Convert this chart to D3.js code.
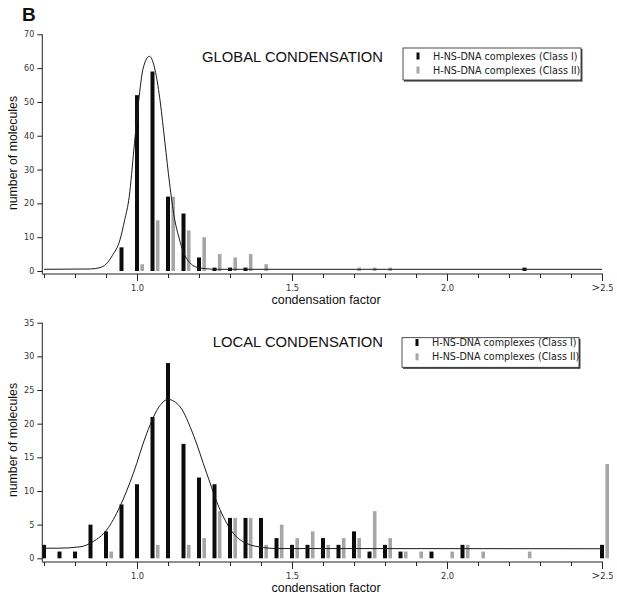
<!DOCTYPE html>
<html><head><meta charset="utf-8">
<script src="https://cdn.jsdelivr.net/npm/d3@7/dist/d3.min.js"></script>
<style>body{margin:0;background:#fff}svg{display:block}</style>
</head><body>
<script>
// ---------------- DATA ----------------
const xMinorTicks = [0.7,0.8,0.9,1.0,1.1,1.2,1.3,1.4,1.5,1.6,1.7,1.8,1.9,2.0,2.1,2.2,2.3,2.4,2.5];
const xMajorTicks = [1.0,1.5,2.0,2.5];
const xMajorLabels = ["1.0","1.5","2.0",">2.5"];
const globalYTicks = [0,10,20,30,40,50,60,70];
const localYTicks = [0,5,10,15,20,25,30,35];

const globalClassIBins   = [0.95,1.00,1.05,1.10,1.15,1.20,1.25,1.30,1.35,2.25];
const globalClassICounts = [7,52,59,22,17,4,1,1,1,1];
const globalClassIIBins   = [1.00,1.05,1.10,1.15,1.20,1.25,1.30,1.35,1.40,1.70,1.75,1.80];
const globalClassIICounts = [2,15,22,12,10,5,4,5,2,1,1,1];

const localClassIBins   = [0.70,0.75,0.80,0.85,0.90,0.95,1.00,1.05,1.10,1.15,1.20,1.25,1.30,1.35,1.40,1.45,1.50,1.55,1.60,1.65,1.70,1.75,1.80,1.85,1.95,2.05,2.50];
const localClassICounts = [2,1,1,5,4,8,11,21,29,17,12,11,6,6,6,3,2,2,3,2,4,1,2,1,1,2,2];
const localClassIIBins   = [0.90,1.05,1.15,1.20,1.25,1.30,1.35,1.40,1.45,1.50,1.55,1.60,1.65,1.70,1.75,1.80,1.85,1.90,2.00,2.05,2.10,2.25,2.50];
const localClassIICounts = [1,2,2,3,7,6,6,2,5,3,4,2,3,3,7,3,1,1,1,2,1,1,14];

// fitted curves, points
const globalFitX = [0.70,0.85,0.88,0.90,0.92,0.945,0.96,0.975,0.99,1.005,1.02,1.04,1.06,1.075,1.09,1.105,1.12,1.135,1.15,1.17,1.19,1.22,1.26,2.50];
const globalFitY = [0.5,0.6,1.0,2.0,4.5,9.2,15,22,36,50,60,63.5,58.7,50,38,26,16,10,5.5,2.5,1.2,0.7,0.5,0.5];
const localFitX = [0.70,0.745,0.816,0.859,0.902,0.945,0.988,1.031,1.074,1.10,1.139,1.182,1.225,1.268,1.311,1.354,1.408,1.45,2.50];
const localFitY = [1.5,1.5,1.7,2.5,4.2,7.7,12.6,18.5,22.7,23.6,22.5,18.3,12.6,7.2,3.7,2.2,1.6,1.45,1.42];

const panelTitles = ["GLOBAL CONDENSATION","LOCAL CONDENSATION"];
const legendLabels = ["H-NS-DNA complexes (Class I)","H-NS-DNA complexes (Class II)"];
const xAxisTitle = "condensation factor";
const yAxisTitle = "number of molecules";
const figureLetter = "B";

// ---------------- LAYOUT ----------------
const W = 617, H = 595;
const BLACK = "#0c0c0c", GRAY = "#a6a6a6";
const svg = d3.select("body").append("svg").attr("width", W).attr("height", H)
  .style("background","#fff");

svg.append("text").attr("x",22).attr("y",21).text(figureLetter)
  .attr("font-family","Liberation Sans, Arial, sans-serif").attr("font-weight","bold")
  .attr("font-size",19).attr("fill","#111");

const x = d3.scaleLinear().domain([0.7,2.5]).range([44,602]);

const panels = [
  {title: panelTitles[0], yMax: 70, yTicks: globalYTicks, yRange:[271,34.3], axisY: 274,
   titleY: 62, legend:{x:403,y:48,w:178,h:32,b1:59.5,b2:73.5},
   c1:[globalClassIBins,globalClassICounts], c2:[globalClassIIBins,globalClassIICounts],
   fit:[globalFitX,globalFitY], yTitleCenter:153},
  {title: panelTitles[1], yMax: 35, yTicks: localYTicks, yRange:[558.3,322.7], axisY: 562,
   titleY: 347, legend:{x:402,y:337.7,w:177,h:29.6,b1:346,b2:360.3},
   c1:[localClassIBins,localClassICounts], c2:[localClassIIBins,localClassIICounts],
   fit:[localFitX,localFitY], yTitleCenter:440}
];

const yAxisX = 42.3;
const tickFont = "DejaVu Sans, Verdana, sans-serif";
const textFont = "Liberation Sans, Arial, Helvetica, sans-serif";

panels.forEach(p => {
  const y = d3.scaleLinear().domain([0,p.yMax]).range(p.yRange);
  const g = svg.append("g");

  // bars: class II (gray) slightly to the right of class I (black)
  const c2 = p.c2[0].map((b,i)=>({b, v:p.c2[1][i]}));
  g.selectAll(".c2").data(c2).enter().append("rect")
    .attr("x", d => x(d.b)+5.2-1.8).attr("width",3.6)
    .attr("y", d => y(d.v)).attr("height", d => y(0)-y(d.v))
    .attr("fill", GRAY);
  const c1 = p.c1[0].map((b,i)=>({b, v:p.c1[1][i]}));
  g.selectAll(".c1").data(c1).enter().append("rect")
    .attr("x", d => x(d.b)-2).attr("width",4)
    .attr("y", d => y(d.v)).attr("height", d => y(0)-y(d.v))
    .attr("fill", BLACK);

  // fit curve
  const pts = p.fit[0].map((fx,i)=>[fx,p.fit[1][i]]);
  g.append("path").datum(pts)
    .attr("d", d3.line().x(d=>x(d[0])).y(d=>y(d[1])).curve(d3.curveMonotoneX))
    .attr("fill","none").attr("stroke","#1a1a1a").attr("stroke-width",1);

  // x axis (minor ticks)
  const ax = g.append("g").attr("transform",`translate(0,${p.axisY})`)
    .call(d3.axisBottom(x).tickValues(xMinorTicks).tickSize(4).tickSizeOuter(0).tickFormat(""));
  ax.select(".domain").remove();
  ax.selectAll("line").attr("stroke","#222");
  const axM = g.append("g").attr("transform",`translate(0,${p.axisY})`)
    .call(d3.axisBottom(x).tickValues(xMajorTicks).tickSize(7).tickPadding(4)
      .tickFormat((d,i)=>xMajorLabels[i]));
  axM.select(".domain").remove();
  axM.selectAll("line").attr("stroke","#222");
  axM.selectAll("text").attr("font-family",tickFont).attr("font-size",8.3).attr("fill","#333");
  // enlarge the ">" of the last label
  axM.selectAll("text").filter((d,i)=>xMajorLabels[i].startsWith(">"))
    .each(function(){
      const t = d3.select(this); const s = t.text(); t.text("");
      t.append("tspan").attr("font-size",10.5).text(s[0]);
      t.append("tspan").text(s.slice(1));
    });
  g.append("line").attr("x1",yAxisX).attr("x2",x(2.5)+1)
    .attr("y1",p.axisY).attr("y2",p.axisY).attr("stroke","#222").attr("stroke-width",1);

  // y axis
  const ay = g.append("g").attr("transform",`translate(${yAxisX},0)`)
    .call(d3.axisLeft(y).tickValues(p.yTicks).tickSize(5).tickPadding(3).tickSizeOuter(0));
  ay.select(".domain").remove();
  ay.selectAll("line").attr("stroke","#222");
  ay.selectAll("text").attr("font-family",tickFont).attr("font-size",8).attr("fill","#333");
  g.append("line").attr("x1",yAxisX).attr("x2",yAxisX)
    .attr("y1",y(p.yMax)).attr("y2",p.axisY).attr("stroke","#222").attr("stroke-width",1);

  // axis titles
  g.append("text").attr("x",326).attr("y",p.axisY+29.5).attr("text-anchor","middle")
    .attr("font-family",textFont).attr("font-size",12.5).attr("fill","#111").text(xAxisTitle);
  g.append("text").attr("transform",`translate(17,${p.yTitleCenter}) rotate(-90)`)
    .attr("text-anchor","middle").attr("font-family",textFont).attr("font-size",12.3)
    .attr("fill","#111").text(yAxisTitle);

  // panel title
  g.append("text").attr("x",383).attr("y",p.titleY).attr("text-anchor","end")
    .attr("font-family",textFont).attr("font-size",14.8).attr("fill","#111").text(p.title);

  // legend
  const L = p.legend;
  g.append("rect").attr("x",L.x).attr("y",L.y).attr("width",L.w).attr("height",L.h)
    .attr("fill","#fff").attr("stroke","#222").attr("stroke-width",0.8);
  g.append("path").attr("d",`M${L.x+L.w+0.8},${L.y+1}V${L.y+L.h+0.8}H${L.x+1}`)
    .attr("fill","none").attr("stroke","#222").attr("stroke-width",1.2);
  [[L.b1,BLACK],[L.b2,GRAY]].forEach(([b,c],i)=>{
    g.append("rect").attr("x",L.x+13.5).attr("y",b-7).attr("width",3).attr("height",7).attr("fill",c);
    g.append("text").attr("x",L.x+30).attr("y",b).attr("font-family",tickFont)
      .attr("font-size",9.6).attr("fill","#222").text(legendLabels[i]);
  });
});
</script>
</body></html>
